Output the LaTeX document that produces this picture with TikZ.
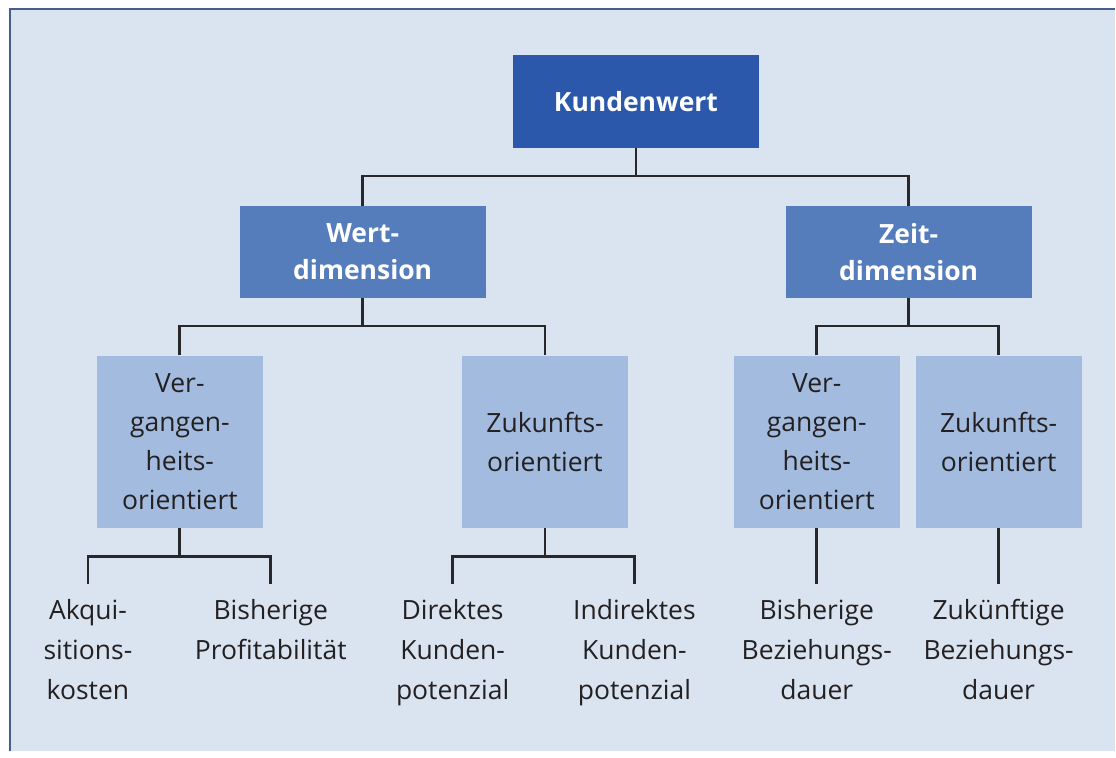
\documentclass[tikz,border=0pt]{standalone}
\usepackage{fontspec}
\setmainfont{Open Sans}
\definecolor{kwblue}{RGB}{43,88,170}
\definecolor{dimblue}{RGB}{85,125,188}
\definecolor{orblue}{RGB}{163,187,222}
\definecolor{bgblue}{RGB}{218,227,240}
\definecolor{framec}{RGB}{70,95,140}
\definecolor{linec}{RGB}{40,40,42}
\definecolor{txt}{RGB}{35,32,34}
\begin{document}
\begin{tikzpicture}[x=1pt,y=-1pt,
  conn/.style={draw=linec, line width=2.8pt},
  topbox/.style={fill=kwblue, text=white, font=\bfseries\fontsize{26.5}{37}\selectfont,
    minimum width=247pt, minimum height=93pt, inner sep=0pt, align=center},
  dimbox/.style={fill=dimblue, text=white, font=\bfseries\fontsize{26.5}{37}\selectfont,
    minimum width=246pt, minimum height=92pt, inner sep=0pt, align=center},
  orbox/.style={fill=orblue, text=txt, font=\fontsize{26.5}{39}\selectfont,
    minimum width=166pt, minimum height=172pt, inner sep=0pt, align=center},
  leaf/.style={text=txt, font=\fontsize{26.5}{40}\selectfont, anchor=north,
    inner sep=0pt, align=center}]
  % page and framed panel
  \fill[white] (0,0) rectangle (1116,758);
  \fill[bgblue] (10,9) rectangle (1116,752);
  \draw[framec, line width=2pt] (10,752) -- (10,9) -- (1116,9);
  \useasboundingbox (0,0) rectangle (1116,758);

  % level 1
  \node[topbox] (kw) at (636.5,101.5) {Kundenwert};
  % level 2
  \node[dimbox] (wd) at (363,252) {Wert-\\dimension};
  \node[dimbox] (zd) at (909.5,252) {Zeit-\\dimension};
  % level 3
  \node[orbox] (wv) at (180,442) {Ver-\\gangen-\\heits-\\orientiert};
  \node[orbox] (wz) at (545.5,442) {Zukunfts-\\orientiert};
  \node[orbox] (zv) at (817.5,442) {Ver-\\gangen-\\heits-\\orientiert};
  \node[orbox] (zz) at (999.5,442) {Zukunfts-\\orientiert};
  % leaves
  \node[leaf] (l1) at (88,600) {Akqui-\\sitions-\\kosten};
  \node[leaf] (l2) at (271,600) {Bisherige\\Profitabilität};
  \node[leaf] (l3) at (453,600) {Direktes\\Kunden-\\potenzial};
  \node[leaf] (l4) at (635,600) {Indirektes\\Kunden-\\potenzial};
  \node[leaf] (l5) at (817.5,600) {Bisherige\\Beziehungs-\\dauer};
  \node[leaf] (l6) at (999.5,600) {Zukünftige\\Beziehungs-\\dauer};

  % connectors
  \draw[conn] (kw.south) -- ++(0,28) coordinate (b0);
  \draw[conn] (wd.north) |- (b0) -| (zd.north);

  \draw[conn] (wd.south) -- ++(0,28) coordinate (b1);
  \draw[conn] (wv.north) |- (b1) -| (wz.north);
  \draw[conn] (zd.south) -- ++(0,28) coordinate (b2);
  \draw[conn] (zv.north) |- (b2) -| (zz.north);

  \draw[conn] (wv.south) -- ++(0,29) coordinate (b3);
  \draw[conn] ([yshift=15pt]l1.north) |- (b3) -| ([yshift=15pt]l2.north);
  \draw[conn] (wz.south) -- ++(0,29) coordinate (b4);
  \draw[conn] ([yshift=15pt]l3.north) |- (b4) -| ([yshift=15pt]l4.north);
  \draw[conn] (zv.south) -- ([yshift=15pt]l5.north);
  \draw[conn] (zz.south) -- ([yshift=15pt]l6.north);
\end{tikzpicture}
\end{document}
